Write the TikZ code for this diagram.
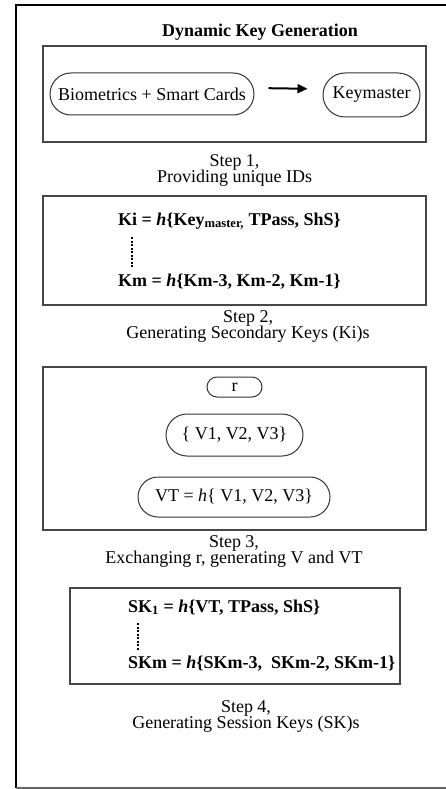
\documentclass[tikz,border=0pt]{standalone}
\usepackage{fontspec}
\setmainfont{Liberation Serif}
\usetikzlibrary{arrows.meta,shapes.misc}
\newcommand\myfs{\fontsize{18}{16.5}\selectfont}
\begin{document}
\begin{tikzpicture}[x=1pt,y=-1pt,
  box/.style={draw=black!72, line width=1.3pt, inner sep=0pt},
  pill/.style={rounded rectangle, draw=black!80, line width=1pt, inner sep=0pt, font=\myfs},
  eq/.style={anchor=base west, font=\myfs\bfseries, inner sep=0pt},
  lbl/.style={anchor=base, font=\myfs, align=center, inner sep=0pt},
  vdots/.style={line width=1.5pt, dash pattern=on 2pt off 1.5pt},
  arr/.style={-{Triangle[length=10pt,width=9pt]}, line width=2pt}]
\useasboundingbox (0,0) rectangle (446,789);
% outer frame
\draw[line width=2.6pt] (480,5) -- (16,5) -- (16,788);
\draw[line width=1.5pt, black!60] (16,788) -- (480,788);
% title
\node[anchor=base, font=\myfs\bfseries, inner sep=0pt] (title) at (260,37) {Dynamic Key Generation};
% step 1
\node[box, minimum width=383pt, minimum height=96pt] (b1) at (234.5,94) {};
\node[pill, minimum width=204pt, minimum height=42pt] (bio) at (152,94) {Biometrics + Smart Cards};
\node[pill, minimum width=97pt, minimum height=44pt] (km) at (371.5,95) {Keymaster};
\draw[arr, shorten <=14pt, shorten >=15pt] ([yshift=6pt]bio.east) -- ([yshift=6pt]km.west);
\node[lbl] (s1) at (234.5,182.5) {Step 1,\\Providing unique IDs};
% step 2
\node[box, minimum width=383pt, minimum height=109pt] (b2) at (234.5,250.5) {};
\node[eq] (ki) at (118,225) {Ki = \textit{h}\{Key\textsubscript{master,} TPass, ShS\}};
\coordinate (d1) at (132,237);
\coordinate (d2) at (132,268);
\draw[vdots] (d1) -- (d2);
\node[eq] (kmm) at (118,286) {Km = \textit{h}\{Km-3, Km-2, Km-1\}};
\node[lbl] (s2) at (248,338.5) {Step 2,\\Generating Secondary Keys (Ki)s};
% step 3
\node[box, minimum width=383pt, minimum height=163pt] (b3) at (234.5,448.5) {};
\node[pill, minimum width=55pt, minimum height=20pt] (r) at (234.5,387) {r};
\node[pill, minimum width=137pt, minimum height=42pt] (v) at (234.5,435) {\{ V1, V2, V3\}};
\node[pill, minimum width=192pt, minimum height=40pt] (vt) at (234,497) {VT = \textit{h}\{ V1, V2, V3\}};
\node[lbl] (s3) at (234,563.5) {Step 3,\\Exchanging r, generating V and VT};
% step 4
\node[box, minimum width=330pt, minimum height=96pt] (b4) at (235,636) {};
\node[eq] (sk1) at (128,612) {SK\textsubscript{1} = \textit{h}\{VT, TPass, ShS\}};
\coordinate (e1) at (138,623);
\coordinate (e2) at (138,651);
\draw[vdots] (e1) -- (e2);
\node[eq] (skm) at (128,668) {SKm = \textit{h}\{SKm-3,\ \ SKm-2, SKm-1\}};
\node[lbl] (s4) at (246,728.5) {Step 4,\\Generating Session Keys (SK)s};
\end{tikzpicture}
\end{document}
